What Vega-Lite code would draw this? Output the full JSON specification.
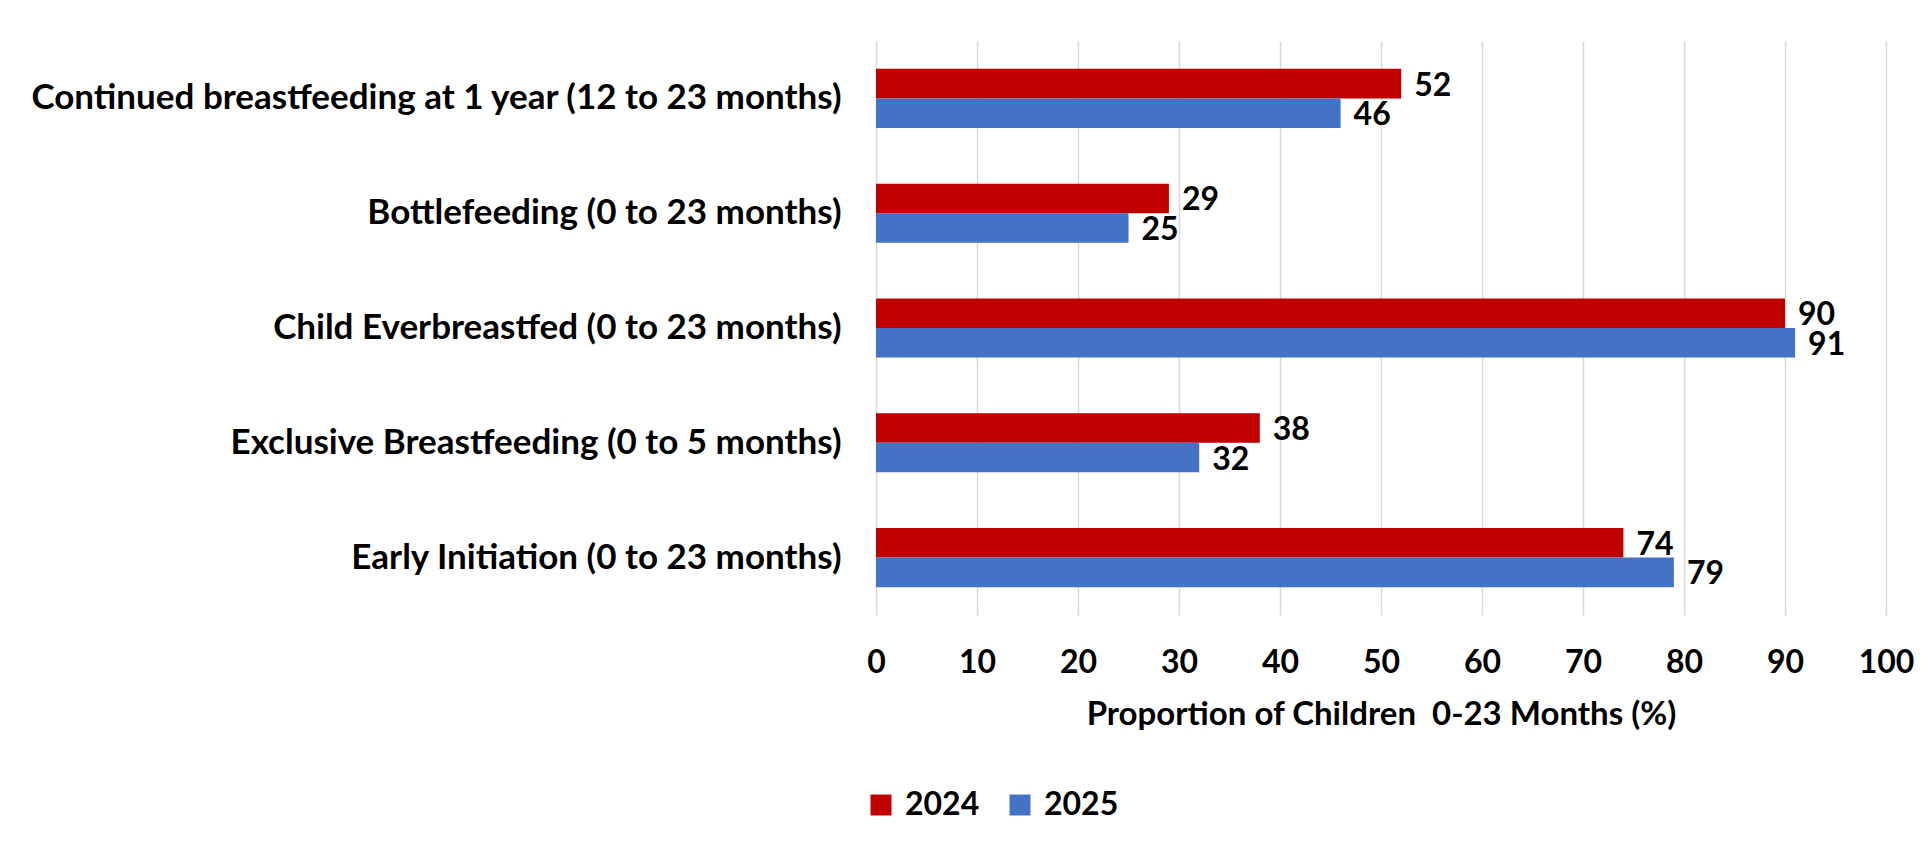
{
  "$schema": "https://vega.github.io/schema/vega-lite/v6.json",
  "autosize": {"type": "none"},
  "width": 1010,
  "height": 574,
  "padding": {"left": 876, "top": 41, "right": 40, "bottom": 228},
  "background": "white",
  "config": {
    "font": "Lato",
    "view": {"stroke": null}
  },
  "data": {
    "values": [
      {"category": "Continued breastfeeding at 1 year (12 to 23 months)", "year": "2024", "value": 52},
      {"category": "Continued breastfeeding at 1 year (12 to 23 months)", "year": "2025", "value": 46},
      {"category": "Bottlefeeding (0 to 23 months)", "year": "2024", "value": 29},
      {"category": "Bottlefeeding (0 to 23 months)", "year": "2025", "value": 25},
      {"category": "Child Everbreastfed (0 to 23 months)", "year": "2024", "value": 90},
      {"category": "Child Everbreastfed (0 to 23 months)", "year": "2025", "value": 91},
      {"category": "Exclusive Breastfeeding (0 to 5 months)", "year": "2024", "value": 38},
      {"category": "Exclusive Breastfeeding (0 to 5 months)", "year": "2025", "value": 32},
      {"category": "Early Initiation (0 to 23 months)", "year": "2024", "value": 74},
      {"category": "Early Initiation (0 to 23 months)", "year": "2025", "value": 79}
    ]
  },
  "encoding": {
    "y": {
      "field": "category",
      "type": "nominal",
      "sort": null,
      "scale": {"paddingInner": 0.485, "paddingOuter": 0.2425},
      "axis": {
        "title": null,
        "domain": false,
        "ticks": false,
        "tickSize": 0,
        "grid": false,
        "labelPadding": 35,
        "labelFont": "Lato",
        "labelFontWeight": "bold",
        "labelFontSize": 35,
        "labelColor": "black",
        "labelLimit": 1000
      }
    },
    "yOffset": {"field": "year", "type": "nominal", "sort": ["2024", "2025"]},
    "x": {
      "field": "value",
      "type": "quantitative",
      "scale": {"domain": [0, 100], "nice": false},
      "axis": {
        "values": [0, 10, 20, 30, 40, 50, 60, 70, 80, 90, 100],
        "title": "Proportion of Children \u00a00-23 Months (%)",
        "domain": false,
        "ticks": false,
        "tickSize": 0,
        "grid": true,
        "gridColor": "#D9D9D9",
        "gridWidth": 1.5,
        "labelFlush": false,
        "labelOverlap": false,
        "labelPadding": 32,
        "labelFont": "Lato",
        "labelFontWeight": "bold",
        "labelFontSize": 32,
        "labelColor": "black",
        "titlePadding": 20,
        "titleFont": "Lato",
        "titleFontWeight": "bold",
        "titleFontSize": 33,
        "titleColor": "black"
      }
    }
  },
  "layer": [
    {
      "mark": {"type": "bar"},
      "encoding": {
        "color": {
          "field": "year",
          "type": "nominal",
          "sort": ["2024", "2025"],
          "scale": {"domain": ["2024", "2025"], "range": ["#C00000", "#4472C4"]},
          "legend": {
            "title": null,
            "orient": "none",
            "legendX": -11,
            "legendY": 748,
            "direction": "horizontal",
            "symbolType": "square",
            "symbolSize": 441,
            "symbolStrokeWidth": 0,
            "labelFont": "Lato",
            "labelFontWeight": "bold",
            "labelFontSize": 32,
            "labelColor": "black",
            "labelOffset": 8,
            "columnPadding": 24
          }
        }
      }
    },
    {
      "mark": {"type": "text", "align": "left", "baseline": "middle", "dx": 13, "dy": 2, "font": "Lato", "fontWeight": "bold", "fontSize": 32, "color": "black"},
      "encoding": {
        "text": {"field": "value", "type": "quantitative"}
      }
    }
  ]
}
